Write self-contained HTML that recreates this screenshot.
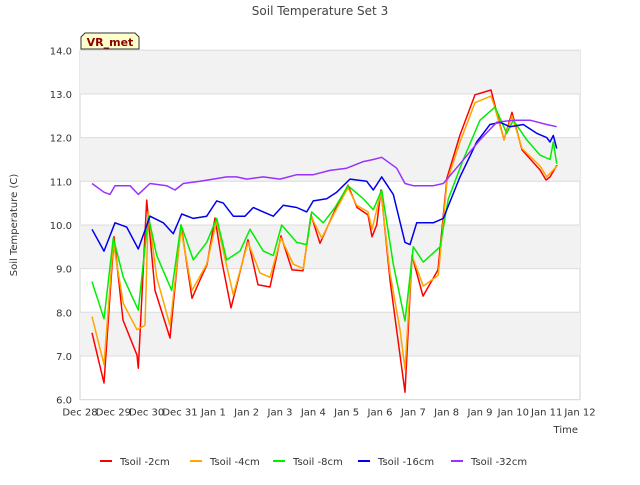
<!DOCTYPE html>
<html><head><meta charset="utf-8"><style>
body{margin:0;background:#fff;font-family:"Liberation Sans","DejaVu Sans",sans-serif}
text{font-family:"DejaVu Sans","Liberation Sans",sans-serif}
</style></head><body>
<svg id="c" width="640" height="480" xmlns="http://www.w3.org/2000/svg"></svg>
<script>
const xTickLabels=["Dec 28","Dec 29","Dec 30","Dec 31","Jan 1","Jan 2","Jan 3","Jan 4","Jan 5","Jan 6","Jan 7","Jan 8","Jan 9","Jan 10","Jan 11","Jan 12"];
const yTicks=[6,7,8,9,10,11,12,13,14];
const seriesNames=["Tsoil -2cm","Tsoil -4cm","Tsoil -8cm","Tsoil -16cm","Tsoil -32cm"];
const seriesColors=["#ff0000","#ffa500","#00ee00","#0000ee","#9b30ff"];
const redDays=[0.36,0.72,1.02,1.29,1.71,1.75,2.0,2.25,2.7,3.03,3.36,3.6,3.81,4.05,4.26,4.53,5.04,5.34,5.7,6.03,6.36,6.69,6.93,7.2,7.65,8.04,8.31,8.64,8.76,8.9,9.03,9.3,9.54,9.75,9.96,10.29,10.74,11.01,11.4,11.85,12.33,12.42,12.72,12.96,13.26,13.8,13.98,14.1,14.31];
const redVals=[7.53,6.38,9.73,7.82,7.02,6.72,10.57,8.5,7.41,10.0,8.32,8.74,9.09,10.16,9.15,8.1,9.66,8.63,8.58,9.75,8.97,8.95,10.23,9.58,10.34,10.91,10.4,10.23,9.73,10.0,10.8,8.74,7.36,6.17,9.3,8.37,8.97,11.08,12.06,12.98,13.09,12.82,11.95,12.58,11.72,11.26,11.03,11.1,11.37];
const orangeDays=[0.36,0.72,1.0,1.3,1.71,1.95,2.05,2.3,2.7,3.03,3.36,3.8,4.1,4.3,4.6,5.04,5.4,5.7,6.03,6.4,6.7,6.93,7.25,7.65,8.04,8.3,8.64,8.76,9.03,9.3,9.6,9.75,9.96,10.3,10.75,11.01,11.4,11.85,12.33,12.42,12.72,12.96,13.26,13.8,14.0,14.31];
const orangeVals=[7.9,6.8,9.6,8.2,7.6,7.7,10.3,8.8,7.7,9.9,8.5,9.1,10.1,9.4,8.4,9.6,8.9,8.8,9.7,9.1,9.0,10.2,9.7,10.3,10.85,10.45,10.3,9.9,10.75,8.9,7.6,6.7,9.3,8.6,8.85,11.0,11.9,12.8,12.95,12.75,11.95,12.5,11.75,11.35,11.1,11.35];
const greenDays=[0.36,0.72,1.0,1.3,1.75,2.05,2.3,2.75,3.03,3.4,3.8,4.1,4.4,4.8,5.1,5.5,5.8,6.05,6.5,6.8,6.95,7.3,7.65,8.04,8.5,8.8,9.05,9.4,9.75,10.0,10.3,10.8,11.05,11.5,12.0,12.45,12.8,13.0,13.4,13.8,14.1,14.2,14.3];
const greenVals=[8.7,7.85,9.7,8.8,8.05,10.2,9.3,8.5,10.0,9.2,9.6,10.15,9.2,9.4,9.9,9.4,9.3,10.0,9.6,9.55,10.3,10.05,10.4,10.9,10.6,10.35,10.8,9.1,7.8,9.5,9.15,9.5,10.6,11.5,12.4,12.7,12.1,12.4,11.95,11.6,11.5,11.9,11.4];
const blueDays=[0.36,0.72,1.05,1.4,1.75,2.1,2.5,2.8,3.05,3.4,3.8,4.1,4.3,4.6,4.95,5.2,5.5,5.8,6.1,6.5,6.8,7.0,7.4,7.7,8.1,8.6,8.8,9.05,9.4,9.75,9.9,10.1,10.6,10.9,11.4,11.9,12.3,12.6,12.9,13.3,13.7,14.0,14.1,14.2,14.3];
const blueVals=[9.9,9.4,10.05,9.95,9.45,10.2,10.05,9.8,10.25,10.15,10.2,10.55,10.5,10.2,10.2,10.4,10.3,10.2,10.45,10.4,10.3,10.55,10.6,10.75,11.05,11.0,10.8,11.1,10.7,9.6,9.55,10.05,10.05,10.15,11.1,11.9,12.3,12.35,12.25,12.3,12.1,12.0,11.9,12.05,11.75];
const purpleDays=[0.36,0.72,0.9,1.05,1.5,1.75,2.1,2.6,2.85,3.1,3.6,4.0,4.4,4.7,5.0,5.5,6.0,6.5,7.0,7.5,8.0,8.5,8.8,9.05,9.5,9.75,10.0,10.6,10.9,11.4,12.0,12.5,13.0,13.5,14.0,14.3];
const purpleVals=[10.95,10.75,10.7,10.9,10.9,10.7,10.95,10.9,10.8,10.95,11.0,11.05,11.1,11.1,11.05,11.1,11.05,11.15,11.15,11.25,11.3,11.45,11.5,11.55,11.3,10.95,10.9,10.9,10.95,11.4,11.95,12.35,12.4,12.4,12.3,12.25];

const L=80,R=580,T=50.3,B=399.6;
const xs=d=>L+d*(R-L)/15;
const ys=v=>B-(v-6)*(B-T)/8;
const svg=document.getElementById('c');
const NS='http://www.w3.org/2000/svg';
function mk(t,a,p){const e=document.createElementNS(NS,t);for(const k in a)e.setAttribute(k,a[k]);(p||svg).appendChild(e);return e;}
mk('rect',{x:L,y:T,width:R-L,height:B-T,fill:'#fff',stroke:'#d0d0d0'});
for(let i=0;i<8;i++){if(i%2===1){const b=mk('rect',{x:L,y:ys(yTicks[i+1]),width:R-L,height:ys(yTicks[i])-ys(yTicks[i+1]),fill:'#f2f2f2'});}}
yTicks.forEach(v=>{const g=mk('line',{x1:L,x2:R,y1:ys(v),y2:ys(v),stroke:'#dcdcdc'});
const t=mk('text',{x:L-8,y:ys(v)+4,'text-anchor':'end','font-size':10,fill:'#333'});t.textContent=v.toFixed(1);});
xTickLabels.forEach((s,i)=>{const t=mk('text',{x:xs(i),y:B+16,'text-anchor':'middle','font-size':10,fill:'#333'});t.textContent=s;});
const D=[[redDays,redVals],[orangeDays,orangeVals],[greenDays,greenVals],[blueDays,blueVals],[purpleDays,purpleVals]];
D.forEach((s,k)=>{const p=mk('polyline',{points:s[0].map((d,i)=>xs(d).toFixed(1)+','+ys(s[1][i]).toFixed(1)).join(' '),fill:'none',stroke:seriesColors[k],'stroke-width':1.5,'stroke-linejoin':'round'});});
const ti=mk('text',{x:320,y:15,'text-anchor':'middle','font-size':12,fill:'#444'});ti.textContent='Soil Temperature Set 3';
const yl=mk('text',{x:17,y:225,'text-anchor':'middle','font-size':10,fill:'#333',transform:'rotate(-90 17 225)'});yl.textContent='Soil Temperature (C)';
const xl=mk('text',{x:578,y:433,'text-anchor':'end','font-size':10,fill:'#333'});xl.textContent='Time';
const vb=mk('path',{d:'M81,49 L81,37 L85,33 L135,33 L139,37 L139,49 Z',fill:'#ffffcc',stroke:'#333'});
const vt=mk('text',{x:110,y:46,'text-anchor':'middle','font-size':11,'font-weight':'bold',fill:'#8b0000'});vt.textContent='VR_met';
const lx=[100,190,273,358,451];
seriesNames.forEach((n,k)=>{const g=mk('g',{});
mk('line',{x1:lx[k],x2:lx[k]+12,y1:461,y2:461,stroke:seriesColors[k],'stroke-width':2},g);
const t=mk('text',{x:lx[k]+20,y:465,'font-size':10,fill:'#333'},g);t.textContent=n;});
</script>
</body></html>
